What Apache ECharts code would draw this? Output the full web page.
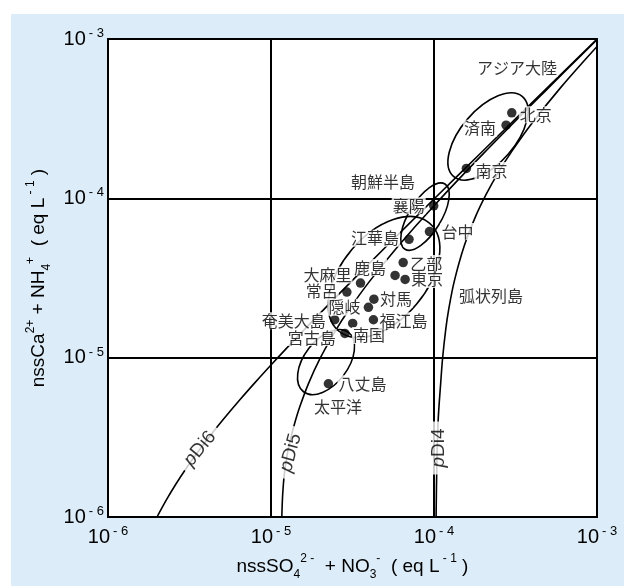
<!DOCTYPE html>
<html>
<head>
<meta charset="utf-8">
<script src="https://cdn.jsdelivr.net/npm/echarts@6/dist/echarts.min.js"></script>
<style>
  html, body { margin: 0; padding: 0; background: #ffffff; }
  #chart { position: absolute; left: 11px; top: 14px; width: 613px; height: 572px; }
</style>
</head>
<body>
<div id="chart"></div>
<script>
// Sampling sites: nssSO4 + NO3 (x) against nssCa + NH4 (y), eq/L
const siteNames = ['北京', '済南', '南京', '襄陽', '台中', '江華島', '乙部', '鹿島', '東京',
  '大麻里', '常呂', '対馬', '隠岐', '奄美大島', '宮古島', '南国', '福江島', '八丈島'];
const siteX = [3.0e-4, 2.77e-4, 1.58e-4, 9.96e-5, 9.38e-5, 7.03e-5, 6.47e-5, 5.77e-5, 6.65e-5,
  3.54e-5, 2.92e-5, 4.28e-5, 3.96e-5, 2.46e-5, 3.17e-5, 2.84e-5, 4.25e-5, 2.25e-5];
const siteY = [3.44e-4, 2.88e-4, 1.54e-4, 8.97e-5, 6.19e-5, 5.53e-5, 3.95e-5, 3.28e-5, 3.1e-5,
  2.94e-5, 2.58e-5, 2.33e-5, 2.07e-5, 1.73e-5, 1.64e-5, 1.42e-5, 1.73e-5, 6.86e-6];

// pDi isolines
const pDi6X = [2.0e-6, 2.1e-6, 2.3e-6, 2.6e-6, 3.0e-6, 3.5e-6, 4.2e-6, 5.0e-6, 6.5e-6, 8.0e-6, 1.0e-5,
  1.5e-5, 2.5e-5, 5.0e-5, 1.0e-4, 2.0e-4, 5.0e-4, 1.0e-3];
const pDi6Y = [1.0e-6, 1.1e-6, 1.3e-6, 1.6e-6, 2.0e-6, 2.5e-6, 3.2e-6, 4.0e-6, 5.5e-6, 7.0e-6, 9.0e-6,
  1.4e-5, 2.4e-5, 4.9e-5, 9.9e-5, 1.99e-4, 4.99e-4, 9.99e-4];
const pDi5X = [1.165e-5, 1.18e-5, 1.21e-5, 1.26e-5, 1.32e-5, 1.4e-5, 1.5e-5, 1.7e-5, 2.0e-5, 2.5e-5,
  3.0e-5, 4.0e-5, 6.0e-5, 1.0e-4, 2.0e-4, 5.0e-4, 1.0e-3];
const pDi5Y = [1.0e-6, 1.4e-6, 1.9e-6, 2.5e-6, 3.1e-6, 3.9e-6, 4.9e-6, 6.9e-6, 9.9e-6, 1.49e-5,
  1.99e-5, 2.99e-5, 4.99e-5, 8.99e-5, 1.9e-4, 4.9e-4, 9.9e-4];
const pDi4X = [1.03e-4, 1.04e-4, 1.06e-4, 1.1e-4, 1.13e-4, 1.18e-4, 1.23e-4, 1.33e-4, 1.53e-4, 1.8e-4,
  2.1e-4, 2.5e-4, 3.0e-4, 4.0e-4, 6.0e-4, 1.0e-3];
const pDi4Y = [1.0e-6, 2.0e-6, 4.0e-6, 7.0e-6, 1.0e-5, 1.5e-5, 2.0e-5, 3.0e-5, 5.0e-5, 7.7e-5,
  1.07e-4, 1.47e-4, 1.97e-4, 2.97e-4, 4.97e-4, 8.97e-4];
const isolineNames = ['pDi6', 'pDi5', 'pDi4'];
const isolineLabelAt = [[3.67e-6, 2.69e-6], [1.322e-5, 2.53e-6], [1.074e-4, 2.71e-6]];

// Region groupings: major-axis ends of each ellipse [x1, y1, x2, y2]
const regionNames = ['アジア大陸', '朝鮮半島', '弧状列島', '太平洋'];
const regionEllipseEnds = [
  [1.317e-4, 1.374e-4, 3.49e-4, 4.35e-4],
  [6.64e-5, 4.79e-5, 1.168e-4, 1.23e-4],
  [2.60e-5, 1.47e-5, 9.38e-5, 7.0e-5],
  [1.583e-5, 6.11e-6, 2.99e-5, 1.44e-5]
];
const regionLabelAt = [[3.23e-4, 6.56e-4], [4.87e-5, 1.266e-4], [2.237e-4, 2.44e-5], [2.576e-5, 4.93e-6]];

// Axis ticks (powers of ten)
const tickExponents = [-6, -5, -4, -3];

// ---- presentation ----
const ellipseAspect = [0.51, 0.42, 0.6, 0.59];
const siteLabelOffset = {
  '北京': [24, 2], '済南': [-26, 3], '南京': [25, 2], '襄陽': [-25, 0], '台中': [28, 0],
  '江華島': [-34, -1], '乙部': [23, 1], '鹿島': [-25, -8], '東京': [22, 0], '大麻里': [-33, -8],
  '常呂': [-25, -1], '対馬': [22, 0], '隠岐': [-24, 0], '奄美大島': [-41, 1], '宮古島': [-41, 14],
  '南国': [24, 2], '福江島': [30, 1], '八丈島': [34, 0]
};
const isolineLabelRotate = [50, 75, 90];

const JP = "'Noto Sans CJK JP', 'Noto Sans', sans-serif";
const LAT = "'Liberation Sans', Arial, sans-serif";
const BLACK = '#000000';

function zipXY(xs, ys) { return xs.map((x, i) => [x, ys[i]]); }

const tickRich = {
  b: { fontSize: 20, fontFamily: LAT, color: BLACK, lineHeight: 24 },
  s: { fontSize: 13, fontFamily: LAT, color: BLACK, lineHeight: 13, verticalAlign: 'top', padding: [0, 0, 0, 3] }
};
function tickLabel(v) {
  const e = Math.round(Math.log10(v));
  if (tickExponents.indexOf(e) < 0) return '';
  return '{b|10}{s|- ' + Math.abs(e) + '}';
}

const titleRich = {
  t: { fontSize: 19, fontFamily: LAT, color: BLACK, lineHeight: 28 },
  sp: { fontSize: 12, fontFamily: LAT, color: BLACK, lineHeight: 12, verticalAlign: 'top' },
  sb: { fontSize: 12, fontFamily: LAT, color: BLACK, lineHeight: 12, verticalAlign: 'bottom' }
};

const lineStyle = { color: BLACK, width: 1.6 };
function isoline(name, xs, ys) {
  return {
    name: name, type: 'line', data: zipXY(xs, ys), showSymbol: false, symbol: 'none',
    smooth: 0.35, lineStyle: lineStyle, silent: true, z: 3
  };
}

const chart = echarts.init(document.getElementById('chart'));
chart.setOption({
  backgroundColor: '#dcedf9',
  animation: false,
  grid: {
    left: 97, top: 25, right: 27, bottom: 65,
    show: true, backgroundColor: '#ffffff', borderColor: BLACK, borderWidth: 2
  },
  xAxis: {
    type: 'log', logBase: 10, min: 1e-6, max: 1e-3,
    axisLine: { show: true, lineStyle: { color: BLACK, width: 2 } },
    axisTick: { show: false },
    splitLine: { show: true, lineStyle: { color: BLACK, width: 2 } },
    axisLabel: { formatter: tickLabel, rich: tickRich, margin: 8, showMinLabel: true, showMaxLabel: true },
    name: '{t|nssSO}{sb|4}{sp|2 -}{t|  + NO}{sb|3}{sp|-}{t|  ( eq L}{sp| - 1}{t| )}',
    nameLocation: 'middle', nameGap: 36,
    nameTextStyle: { rich: titleRich }
  },
  yAxis: {
    type: 'log', logBase: 10, min: 1e-6, max: 1e-3,
    axisLine: { show: true, lineStyle: { color: BLACK, width: 2 } },
    axisTick: { show: false },
    splitLine: { show: true, lineStyle: { color: BLACK, width: 2 } },
    axisLabel: { formatter: tickLabel, rich: tickRich, margin: 4, showMinLabel: true, showMaxLabel: true },
    name: '{t|nssCa}{sp|2+}{t| + NH}{sb|4}{sp|+}{t|  ( eq L}{sp| - 1}{t| )}',
    nameLocation: 'middle', nameGap: 52, nameRotate: 90,
    nameTextStyle: { rich: titleRich }
  },
  series: [
    isoline(isolineNames[0], pDi6X, pDi6Y),
    isoline(isolineNames[1], pDi5X, pDi5Y),
    isoline(isolineNames[2], pDi4X, pDi4Y),
    {
      name: 'regions', type: 'custom', silent: true, z: 3,
      data: regionEllipseEnds.map((e, i) => e.concat([ellipseAspect[i]])),
      encode: { x: [0, 2], y: [1, 3] },
      renderItem: function (params, api) {
        const p1 = api.coord([api.value(0), api.value(1)]);
        const p2 = api.coord([api.value(2), api.value(3)]);
        const rx = Math.hypot(p2[0] - p1[0], p2[1] - p1[1]) / 2;
        return {
          type: 'ellipse',
          x: (p1[0] + p2[0]) / 2, y: (p1[1] + p2[1]) / 2,
          rotation: -Math.atan2(p2[1] - p1[1], p2[0] - p1[0]),
          shape: { cx: 0, cy: 0, rx: rx, ry: rx * api.value(4) },
          style: { fill: 'none', stroke: BLACK, lineWidth: 1.6 }
        };
      }
    },
    {
      name: 'isoline labels', type: 'scatter', symbolSize: 0, silent: true, z: 8,
      data: isolineLabelAt.map((p, i) => ({
        value: p, name: isolineNames[i],
        label: { rotate: isolineLabelRotate[i] }
      })),
      label: {
        show: true, position: 'inside',
        formatter: p => '{i|p}{r|' + p.name.slice(1) + '}',
        backgroundColor: '#ffffff', padding: [2, 7],
        rich: {
          i: { fontSize: 19, fontFamily: LAT, fontStyle: 'italic', color: BLACK },
          r: { fontSize: 19, fontFamily: LAT, color: BLACK }
        }
      }
    },
    {
      name: 'region labels', type: 'scatter', symbolSize: 0, silent: true, z: 8,
      data: regionLabelAt.map((p, i) => ({ value: p, name: regionNames[i] })),
      label: {
        show: true, position: 'inside', formatter: '{b}',
        fontSize: 16, fontFamily: JP, color: BLACK, lineHeight: 17,
        backgroundColor: '#ffffff', padding: [0, 1]
      }
    },
    {
      name: 'sites', type: 'scatter', symbol: 'circle', symbolSize: 9.5, silent: true, z: 10,
      itemStyle: { color: BLACK },
      data: siteNames.map((n, i) => ({
        value: [siteX[i], siteY[i]], name: n,
        label: { offset: siteLabelOffset[n] }
      })),
      label: {
        show: true, position: 'inside', formatter: '{b}',
        fontSize: 16, fontFamily: JP, color: BLACK, lineHeight: 17,
        backgroundColor: '#ffffff', padding: [0, 1]
      }
    }
  ]
});
</script>
</body>
</html>
